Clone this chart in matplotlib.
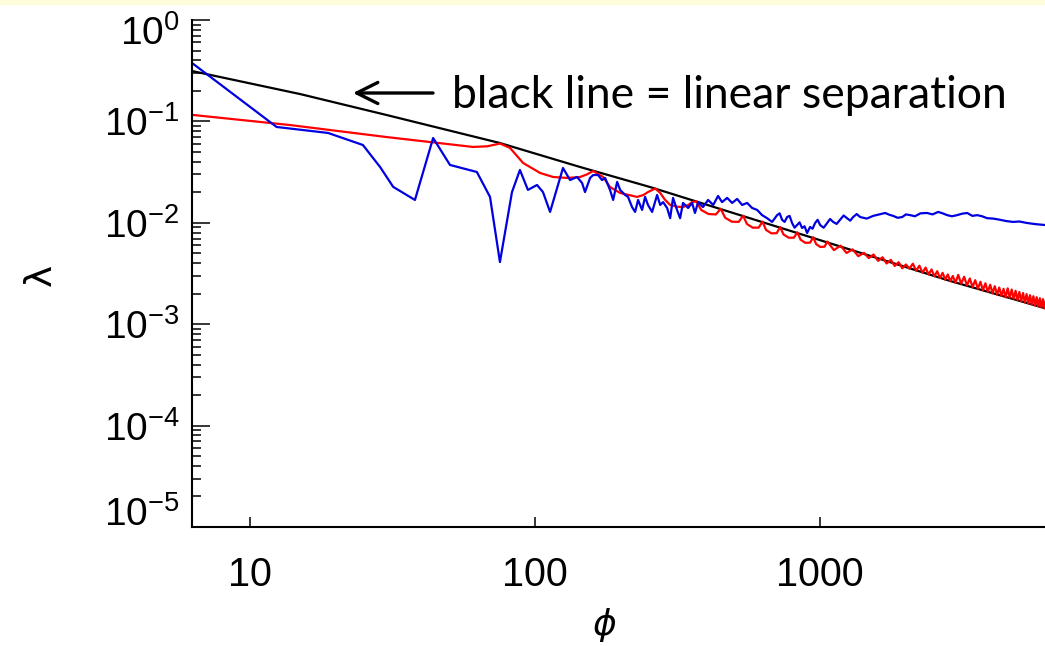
import matplotlib
matplotlib.use("Agg")
import matplotlib.pyplot as plt
import matplotlib.transforms as mtransforms
from matplotlib.patches import Rectangle
from matplotlib.ticker import FixedLocator, FixedFormatter, LogLocator, NullLocator

# black: linear separation
black_phi = [6.26, 15.0, 30.0, 75.3, 143.9, 253.5, 922.0, 2858.0, 6150.0, 8000.0]
black_lam = [0.314, 0.186, 0.116, 0.0612, 0.0355, 0.0225, 0.00724, 0.00267, 0.00144, 0.00117]

# red curve (smooth part, then scalloped arcs along the black line)
red_phi = [6.26, 13.8, 30.0, 42.8, 60.5, 68.0, 75.3, 81.7, 90.8, 104.2,
           115.7, 129.5, 143.9, 152.0, 160.0, 173.3, 183.2, 198.8, 228.0, 240.0,
           249.0, 264.0, 274.8, 285.0, 297.8, 315.0, 330.4, 345.0, 355.6, 368.0,
           382.7, 406.0, 430.7, 448.0, 464.5, 490.5, 518.0, 537.0, 554.0, 580.7,
           608.5, 628.0, 646.0, 674.3, 704.0, 724.0, 744.0, 776.1, 809.0, 832.0,
           854.0, 887.2, 922.0, 946.0, 968.0, 1001.4, 1036.0, 1060.0, 1118.0, 1180.0,
           1238.0, 1300.0, 1361.0, 1425.0, 1482, 1540, 1597, 1655, 1712, 1770,
           1827, 1885, 1942, 2000, 2057, 2115, 2172, 2230, 2287, 2345,
           2402, 2460, 2517, 2575, 2632, 2690, 2747, 2805, 2862, 2920,
           2985, 3050, 3125, 3200, 3275, 3350, 3425, 3500, 3575, 3650,
           3725, 3800, 3875, 3950, 4025, 4100, 4175, 4250, 4325, 4400,
           4475, 4550, 4625, 4700, 4775, 4850, 4925, 5000, 5075, 5150,
           5225, 5300, 5375, 5450, 5525, 5600, 5675, 5750, 5825, 5900,
           5975, 6050, 6125, 6200]
red_lam = [0.116, 0.0921, 0.0702, 0.0626, 0.0560, 0.0568, 0.0605, 0.0547, 0.0389, 0.0310,
           0.0283, 0.0277, 0.0283, 0.0300, 0.0324, 0.0283, 0.0225, 0.0197, 0.0180, 0.0188,
           0.0201, 0.0218, 0.0197, 0.0170, 0.0150, 0.0144, 0.0143, 0.0150, 0.0160, 0.0163,
           0.01338, 0.01221, 0.01208, 0.01375, 0.01121, 0.01025, 0.01021, 0.01175, 0.00971, 0.00895,
           0.00896, 0.01026, 0.00851, 0.00787, 0.00790, 0.00908, 0.00767, 0.00713, 0.00713, 0.00805,
           0.00681, 0.00635, 0.00637, 0.00720, 0.00617, 0.00578, 0.00581, 0.00653, 0.00538, 0.00595,
           0.00504, 0.00547, 0.00469, 0.00505, 0.00449, 0.004867, 0.004213, 0.004573, 0.003966, 0.004316,
           0.003751, 0.004087, 0.003559, 0.003883, 0.003533, 0.003951, 0.003369, 0.003774, 0.003222, 0.003615,
           0.003088, 0.003467, 0.002965, 0.003333, 0.002853, 0.003209, 0.002749, 0.003094, 0.002654, 0.002989,
           0.002561, 0.003062, 0.002511, 0.002938, 0.002412, 0.002823, 0.002320, 0.002718, 0.002235, 0.002621,
           0.002158, 0.002532, 0.002084, 0.002448, 0.002018, 0.002370, 0.001954, 0.002298, 0.001896, 0.002230,
           0.001839, 0.002258, 0.001825, 0.002196, 0.001775, 0.002137, 0.001729, 0.002081, 0.001684, 0.002029,
           0.001641, 0.001979, 0.001603, 0.001932, 0.001565, 0.001887, 0.001528, 0.001845, 0.001495, 0.001804,
           0.001463, 0.001765, 0.001431, 0.001729]

# blue curve (noisy)
blue_phi = [6.26, 12.4, 18.8, 24.9, 28.6, 31.8, 37.9, 43.9, 50.3, 62.5,
            69.5, 75.3, 83.0, 88.5, 94.4, 101.6, 106.6, 112.9, 125.3, 132.7,
            140.4, 146.2, 149.7, 156.0, 159.9, 166.3, 171.8, 176.1, 183.2, 187.9,
            194.1, 198.8, 207.0, 211.9, 218.9, 224.4, 229.8, 237.4, 243.2, 249.0,
            257.4, 268.0, 274.8, 281.3, 290.6, 297.8, 304.8, 314.8, 322.7, 330.4,
            344.3, 355.6, 363.9, 373.2, 388.2, 404.6, 421.7, 438.5, 452.9, 472.0,
            491.3, 511.6, 532.5, 554.6, 577.4, 601.2, 625.9, 651.7, 678.6, 706.5,
            721, 735.6, 750.6, 765.9, 781.5, 797.4, 813.6, 830.2, 847.1, 864.4,
            882, 900.0, 922.2, 941, 960.2, 980, 1000, 1029, 1058, 1084,
            1111, 1143, 1175, 1209, 1244, 1275, 1306, 1344, 1382, 1458,
            1535, 1610, 1691, 1750, 1805, 1870, 1941, 2000, 2070, 2150,
            2250, 2373, 2480, 2594, 2690, 2790, 2900, 3025, 3150, 3280,
            3420, 3556, 3700, 3855, 4050, 4285, 4500, 4755, 5000, 5325,
            5700, 6150]
blue_lam = [0.377, 0.0881, 0.0769, 0.0585, 0.0355, 0.0226, 0.0168, 0.0686, 0.0372, 0.0317,
            0.0180, 0.0041, 0.0201, 0.0332, 0.0211, 0.0236, 0.0201, 0.0128, 0.0347, 0.0264,
            0.0283, 0.0247, 0.0201, 0.0277, 0.0296, 0.0296, 0.0264, 0.0277, 0.0211, 0.0168,
            0.0253, 0.0211, 0.0188, 0.0180, 0.0143, 0.0128, 0.0168, 0.0134, 0.0180, 0.0150,
            0.0128, 0.0188, 0.0150, 0.0160, 0.0140, 0.0111, 0.0176, 0.0134, 0.0111, 0.0157,
            0.0140, 0.0157, 0.0125, 0.0160, 0.0143, 0.0168, 0.0150, 0.0184, 0.0160, 0.0176,
            0.0157, 0.0172, 0.0150, 0.0157, 0.0140, 0.0134, 0.0119, 0.0111, 0.0102, 0.0119,
            0.0124, 0.0107, 0.0102, 0.0114, 0.0117, 0.00995, 0.00895, 0.00951, 0.0101, 0.00889,
            0.00924, 0.00793, 0.00910, 0.00874, 0.00995, 0.0107, 0.00951, 0.00894, 0.00995, 0.0109,
            0.0102, 0.00975, 0.0107, 0.0118, 0.0111, 0.0105, 0.0114, 0.0122, 0.0114, 0.0110,
            0.0117, 0.0121, 0.0125, 0.0120, 0.0117, 0.0112, 0.0114, 0.0121, 0.0119, 0.0116,
            0.0124, 0.0125, 0.0121, 0.0128, 0.0124, 0.0119, 0.0116, 0.0119, 0.0123, 0.0125,
            0.0117, 0.0119, 0.0116, 0.0111, 0.0110, 0.0107, 0.0104, 0.0102, 0.0103, 0.00995,
            0.00970, 0.00951]

x_ticks = [10, 100, 1000]
x_tick_labels = ["10", "100", "1000"]
y_ticks = [1e-5, 1e-4, 1e-3, 1e-2, 1e-1, 1e0]
y_tick_labels = [r"$\mathdefault{10^{-5}}$", r"$\mathdefault{10^{-4}}$", r"$\mathdefault{10^{-3}}$",
                 r"$\mathdefault{10^{-2}}$", r"$\mathdefault{10^{-1}}$", r"$\mathdefault{10^{0}}$"]

plt.rcParams["font.family"] = ["Liberation Sans", "DejaVu Sans"]
plt.rcParams["mathtext.fontset"] = "custom"
plt.rcParams["mathtext.rm"] = "Liberation Sans"
plt.rcParams["mathtext.it"] = "Liberation Sans:italic"

fig = plt.figure(figsize=(10.45, 6.46), dpi=100)
W, H = 1045.0, 646.0
ax = fig.add_axes([192 / W, 119 / H, 853 / W, 507 / H])
ax.set_xscale("log")
ax.set_yscale("log")

ax.plot(black_phi, black_lam, color="black", lw=1.6)
ax.plot(red_phi, red_lam, color="#ff0000", lw=1.6)
ax.plot(blue_phi, blue_lam, color="#0000e0", lw=1.6)

ax.set_xlim(6.26, 6150)
ax.set_ylim(1e-5, 1)

for side in ["top", "right"]:
    ax.spines[side].set_visible(False)
for side in ["left", "bottom"]:
    ax.spines[side].set_linewidth(1.5)

ax.xaxis.set_major_locator(FixedLocator(x_ticks))
ax.xaxis.set_major_formatter(FixedFormatter(x_tick_labels))
ax.xaxis.set_minor_locator(NullLocator())
ax.yaxis.set_major_locator(FixedLocator(y_ticks))
ax.yaxis.set_major_formatter(FixedFormatter(y_tick_labels))
ax.yaxis.set_minor_locator(LogLocator(base=10, subs=range(2, 10)))

ax.tick_params(axis="x", which="major", direction="in", length=7.2, width=1.1,
               pad=21, labelsize=28.5)
ax.tick_params(axis="y", which="major", direction="in", length=13, width=1.1,
               pad=9, labelsize=28)
ax.tick_params(axis="y", which="minor", direction="in", length=6.5, width=1.1)

# end labels are nudged inward (top one down, bottom one up)
ylabs = ax.get_yticklabels()
ylabs[0].set_transform(ylabs[0].get_transform()
                       + mtransforms.ScaledTranslation(0, 0.16, fig.dpi_scale_trans))
ylabs[-1].set_transform(ylabs[-1].get_transform()
                        + mtransforms.ScaledTranslation(0, -0.10, fig.dpi_scale_trans))

fig.text(605 / W, 1 - 625 / H, "ϕ", family="DejaVu Sans", style="italic",
         size=26, ha="center", va="center")
fig.text(41 / W, 1 - 275 / H, "λ", family="DejaVu Sans", rotation=90,
         size=27, ha="center", va="center")

fig.text(452 / W, 1 - 95 / H, "black line = linear separation", family="Lato",
         size=32, ha="left", va="center")
ax.annotate("", xy=(353 / W, 1 - 93 / H), xytext=(433 / W, 1 - 93 / H),
            xycoords="figure fraction", textcoords="figure fraction",
            arrowprops=dict(arrowstyle="->", lw=2.4, color="black",
                            mutation_scale=38, shrinkA=0, shrinkB=0))

fig.add_artist(Rectangle((0, 1 - 4 / H), 1, 4 / H, transform=fig.transFigure,
                         color="#fffcd9", zorder=0))

fig.savefig("out.png", dpi=100)
